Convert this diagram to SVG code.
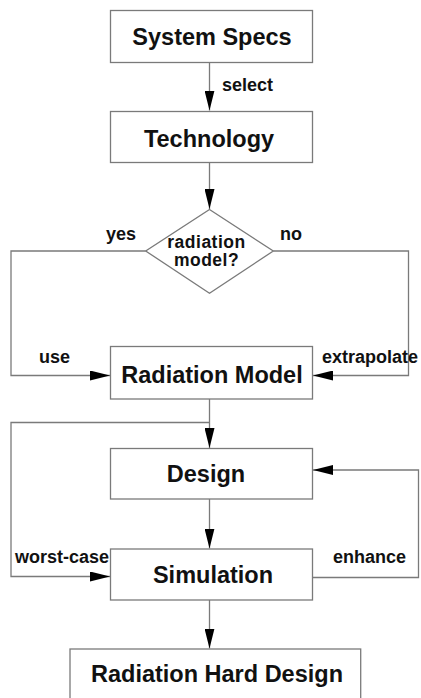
<svg xmlns="http://www.w3.org/2000/svg" width="421" height="698" viewBox="0 0 421 698">
<style>
.box{fill:#fff;stroke:#7a7a7a;stroke-width:1.3}
.ln{fill:none;stroke:#7a7a7a;stroke-width:1.3}
.nt{font-family:"Liberation Sans",Arial,sans-serif;font-weight:bold;font-size:23.5px;fill:#111;text-anchor:middle}
.lb{font-family:"Liberation Sans",Arial,sans-serif;font-weight:bold;font-size:18px;fill:#111}
.dt{font-family:"Liberation Sans",Arial,sans-serif;font-weight:bold;font-size:17.5px;letter-spacing:0.5px;fill:#111;text-anchor:middle}
</style>
<defs>
<marker id="ah" markerUnits="userSpaceOnUse" markerWidth="21" markerHeight="10" refX="20" refY="5" orient="auto">
<path d="M0,0 L20,5 L0,10 z" fill="#000"/>
</marker>
</defs>
<rect width="421" height="698" fill="#fff"/>
<g id="connectors">
<path class="ln" d="M209.5,62.5 V110.5" marker-end="url(#ah)"/>
<path class="ln" d="M209.5,163 V209" marker-end="url(#ah)"/>
<path class="ln" d="M145.7,251 H11 V375.5 H110" marker-end="url(#ah)"/>
<path class="ln" d="M273.3,251 H408.5 V375.5 H313" marker-end="url(#ah)"/>
<path class="ln" d="M209.5,399 V448" marker-end="url(#ah)"/>
<path class="ln" d="M209.5,422.5 H11 V576.5 H110" marker-end="url(#ah)"/>
<path class="ln" d="M209.5,499 V548.5" marker-end="url(#ah)"/>
<path class="ln" d="M312.5,577.5 H418.5 V470 H313" marker-end="url(#ah)"/>
<path class="ln" d="M209.5,600 V648.5" marker-end="url(#ah)"/>
<text class="lb" x="222" y="91">select</text>
<text class="lb" x="106" y="240">yes</text>
<text class="lb" x="280" y="240">no</text>
<text class="lb" x="39" y="363">use</text>
<text class="lb" x="322" y="363">extrapolate</text>
<text class="lb" x="15" y="563">worst-case</text>
<text class="lb" x="333" y="563">enhance</text>
</g>
<g id="system-specs">
<rect class="box" x="110.5" y="10.5" width="202" height="52"/>
<text class="nt" x="212" y="45">System Specs</text>
</g>
<g id="technology">
<rect class="box" x="110.5" y="111.5" width="202" height="51"/>
<text class="nt" x="209" y="146.5">Technology</text>
</g>
<g id="radiation-model-q">
<polygon class="box" points="209.5,209.5 273.3,251 209.5,293.3 145.7,251"/>
<text class="dt" x="206.5" y="247.5">radiation</text>
<text class="dt" x="206.5" y="266">model?</text>
</g>
<g id="radiation-model">
<rect class="box" x="110.5" y="346.5" width="202" height="52.5"/>
<text class="nt" x="212" y="383.3">Radiation Model</text>
</g>
<g id="design">
<rect class="box" x="110.5" y="448.5" width="202" height="50.5"/>
<text class="nt" x="206" y="481.7">Design</text>
</g>
<g id="simulation">
<rect class="box" x="110.5" y="549" width="202" height="51"/>
<text class="nt" x="213" y="583.3">Simulation</text>
</g>
<g id="radiation-hard-design">
<rect class="box" x="70" y="649" width="290.7" height="60"/>
<text class="nt" x="217" y="681.7">Radiation Hard Design</text>
</g>
</svg>
